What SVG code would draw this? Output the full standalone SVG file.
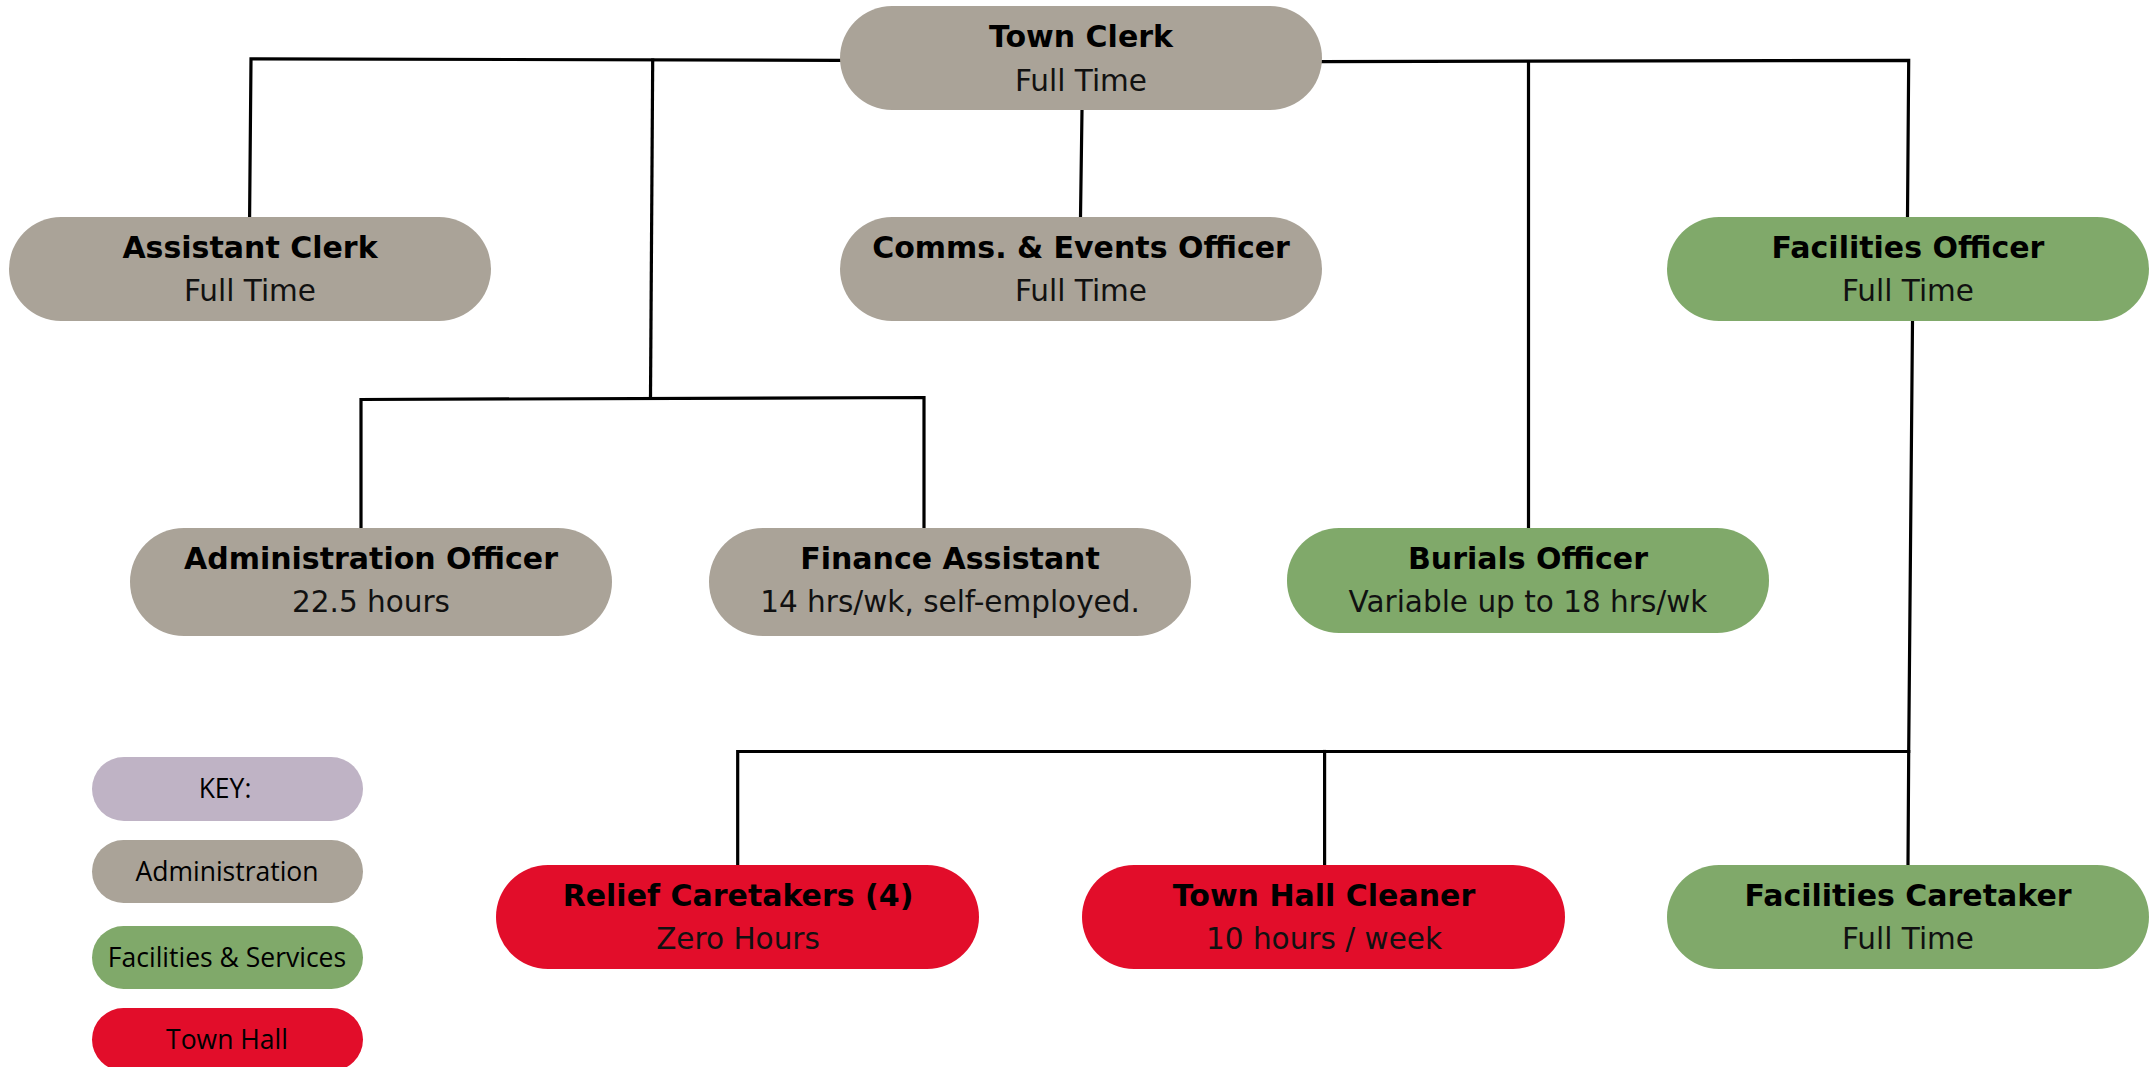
<svg xmlns="http://www.w3.org/2000/svg" width="2150" height="1067" viewBox="0 0 2150 1067">
<style>
.adm{fill:#aaa398}
.fac{fill:#80a96a}
.th{fill:#e20d2a}
.key{fill:#bfb3c5}
.t{font-family:"DejaVu Sans","Liberation Sans",sans-serif;font-weight:bold;font-size:30px;fill:#000;text-anchor:middle}
.s{font-family:"DejaVu Sans","Liberation Sans",sans-serif;font-size:29.5px;fill:#111;text-anchor:middle}
.k{font-family:"Open Sans","Liberation Sans",sans-serif;font-size:26.5px;fill:#000;text-anchor:middle}
.c{stroke:#000;stroke-width:3.2;fill:none;stroke-linecap:square}
</style>
<rect width="2150" height="1067" fill="#fff"/>
<g id="connectors">
<path class="c" d="M840 60.3 L251 58.9 L249.6 217"/>
<path class="c" d="M652.7 60 L650.5 397"/>
<path class="c" d="M361 528 L361 399.5 L924 397.5 L924 528"/>
<path class="c" d="M1082 110 L1080.5 217"/>
<path class="c" d="M1322 61.7 L1908.7 60.3 L1907.5 217"/>
<path class="c" d="M1528.5 62 L1528.5 528"/>
<path class="c" d="M1912.5 321 L1908.7 751.5"/>
<path class="c" d="M737.7 865 L737.7 751.5 L1908.7 751.5 L1908 865"/>
<path class="c" d="M1324.6 751.5 L1324.6 865"/>
</g>
<g id="town-clerk"><rect class="adm" x="840" y="6" width="482" height="104" rx="52"/><text class="t" x="1081" y="47">Town Clerk</text><text class="s" x="1081" y="91">Full Time</text></g>
<g id="assistant-clerk"><rect class="adm" x="9" y="217" width="482" height="104" rx="52"/><text class="t" x="250" y="258">Assistant Clerk</text><text class="s" x="250" y="301">Full Time</text></g>
<g id="comms-events-officer"><rect class="adm" x="840" y="217" width="482" height="104" rx="52"/><text class="t" x="1081" y="258">Comms. &amp; Events Officer</text><text class="s" x="1081" y="301">Full Time</text></g>
<g id="facilities-officer"><rect class="fac" x="1667" y="217" width="482" height="104" rx="52"/><text class="t" x="1908" y="258">Facilities Officer</text><text class="s" x="1908" y="301">Full Time</text></g>
<g id="administration-officer"><rect class="adm" x="130" y="528" width="482" height="108" rx="54"/><text class="t" x="371" y="569">Administration Officer</text><text class="s" x="371" y="612">22.5 hours</text></g>
<g id="finance-assistant"><rect class="adm" x="709" y="528" width="482" height="108" rx="54"/><text class="t" x="950" y="569">Finance Assistant</text><text class="s" x="950" y="612">14 hrs/wk, self-employed.</text></g>
<g id="burials-officer"><rect class="fac" x="1287" y="528" width="482" height="105" rx="52"/><text class="t" x="1528" y="569">Burials Officer</text><text class="s" x="1528" y="612">Variable up to 18 hrs/wk</text></g>
<g id="relief-caretakers"><rect class="th" x="496" y="865" width="483" height="104" rx="52"/><text class="t" x="738" y="906">Relief Caretakers (4)</text><text class="s" x="738" y="949">Zero Hours</text></g>
<g id="town-hall-cleaner"><rect class="th" x="1082" y="865" width="483" height="104" rx="52"/><text class="t" x="1324" y="906">Town Hall Cleaner</text><text class="s" x="1324" y="949">10 hours / week</text></g>
<g id="facilities-caretaker"><rect class="fac" x="1667" y="865" width="482" height="104" rx="52"/><text class="t" x="1908" y="906">Facilities Caretaker</text><text class="s" x="1908" y="949">Full Time</text></g>
<g id="key"><rect class="key" x="92" y="757" width="271" height="64" rx="32"/><text class="k" x="225" y="798">KEY:</text></g>
<g id="key-administration"><rect class="adm" x="92" y="840" width="271" height="63" rx="31.5"/><text class="k" x="227" y="881">Administration</text></g>
<g id="key-facilities"><rect class="fac" x="92" y="926" width="271" height="63" rx="31.5"/><text class="k" x="227" y="967">Facilities &amp; Services</text></g>
<g id="key-town-hall"><rect class="th" x="92" y="1008" width="271" height="63" rx="31.5"/><text class="k" x="227" y="1049">Town Hall</text></g>
</svg>
